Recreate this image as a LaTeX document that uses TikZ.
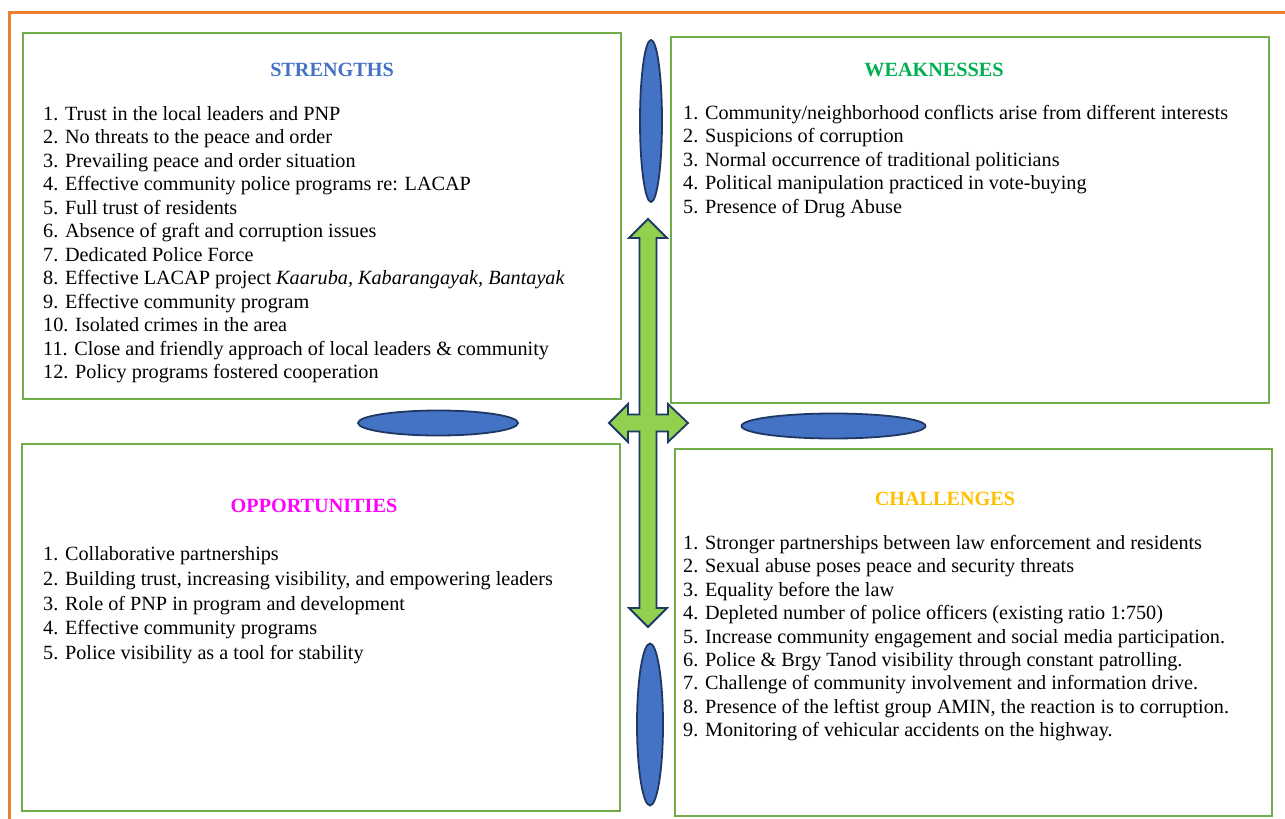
\documentclass[tikz,border=0pt]{standalone}
\usepackage{fontspec}
\setmainfont{Liberation Serif}
\definecolor{orangeline}{HTML}{ED7D31}
\definecolor{boxgreen}{HTML}{70AD47}
\definecolor{arrowgreen}{HTML}{92D050}
\definecolor{navy}{HTML}{1F3864}
\definecolor{ellblue}{HTML}{4472C4}
\definecolor{hstr}{HTML}{4472C4}
\definecolor{hweak}{HTML}{00B050}
\definecolor{hopp}{HTML}{FF00FF}
\definecolor{hchal}{HTML}{FFC000}
\tikzset{
  quad/.style={draw=boxgreen,line width=2.5pt},
  oval/.style={draw=navy,fill=ellblue,line width=1.8pt},
  item/.style={anchor=base west,inner sep=0pt,font=\fontsize{20.2}{24}\selectfont},
  head/.style={anchor=base,inner sep=0pt,font=\fontsize{20.2}{24}\selectfont\bfseries},
}
\begin{document}
\begin{tikzpicture}[x=1pt,y=-1pt]
\useasboundingbox (0,0) rectangle (1285,819);
\fill[white] (0,0) rectangle (1285,819);
% orange frame
\draw[orangeline,line width=3pt] (9,830) -- (9,12) -- (1290,12);
% boxes
\draw[quad] (23,33) rectangle (621,399);
\draw[quad] (671,37) rectangle (1269,403);
\draw[quad] (22,444) rectangle (620,811);
\draw[quad] (675,449) rectangle (1272,816);
% ellipses
\draw[oval] (651,121) ellipse [x radius=11, y radius=81];
\draw[oval] (650,724.5) ellipse [x radius=13, y radius=81];
\draw[oval] (438,423) ellipse [x radius=80, y radius=12.5];
\draw[oval] (833.5,426) ellipse [x radius=92, y radius=12.5];
% four-way arrow
\draw[fill=arrowgreen,draw=navy,line width=1.8pt,line join=miter]
 (648,219) -- (667,238) -- (656.5,238) -- (656.5,414.5) -- (668,414.5) -- (668,404)
 -- (688,423) -- (668,442) -- (668,431.5) -- (656.5,431.5) -- (656.5,608) -- (667,608)
 -- (648,627) -- (629,608) -- (639.5,608) -- (639.5,431.5) -- (628,431.5) -- (628,442)
 -- (609,423) -- (628,404) -- (628,414.5) -- (639.5,414.5) -- (639.5,238) -- (629,238) -- cycle;
% headings
\node[head,text=hstr] (hs) at (332,76) {STRENGTHS};
\node[head,text=hweak] (hw) at (934,76) {WEAKNESSES};
\node[head,text=hopp] (ho) at (314,512) {OPPORTUNITIES};
\node[head,text=hchal] (hc) at (945,505) {CHALLENGES};
% strengths
\foreach \t [count=\i] in {
 {1. Trust in the local leaders and PNP},
 {2. No threats to the peace and order},
 {3. Prevailing peace and order situation},
 {4. Effective community police programs re: LACAP},
 {5. Full trust of residents},
 {6. Absence of graft and corruption issues},
 {7. Dedicated Police Force},
 {8. Effective LACAP project \textit{Kaaruba, Kabarangayak, Bantayak}},
 {9. Effective community program},
 {10. Isolated crimes in the area},
 {11. Close and friendly approach of local leaders \& community},
 {12. Policy programs fostered cooperation}}
 \node[item] (s\i) at (43,{120.5+23.45*(\i-1)}) {\t};
% weaknesses
\foreach \t [count=\i] in {
 {1. Community/neighborhood conflicts arise from different interests},
 {2. Suspicions of corruption},
 {3. Normal occurrence of traditional politicians},
 {4. Political manipulation practiced in vote-buying},
 {5. Presence of Drug Abuse}}
 \node[item] (w\i) at (683,{119.5+23.4*(\i-1)}) {\t};
% opportunities
\foreach \t [count=\i] in {
 {1. Collaborative partnerships},
 {2. Building trust, increasing visibility, and empowering leaders},
 {3. Role of PNP in program and development},
 {4. Effective community programs},
 {5. Police visibility as a tool for stability}}
 \node[item] (o\i) at (43,{560.5+24.75*(\i-1)}) {\t};
% challenges
\foreach \t [count=\i] in {
 {1. Stronger partnerships between law enforcement and residents},
 {2. Sexual abuse poses peace and security threats},
 {3. Equality before the law},
 {4. Depleted number of police officers (existing ratio 1:750)},
 {5. Increase community engagement and social media participation.},
 {6. Police \& Brgy Tanod visibility through constant patrolling.},
 {7. Challenge of community involvement and information drive.},
 {8. Presence of the leftist group AMIN, the reaction is to corruption.},
 {9. Monitoring of vehicular accidents on the highway.}}
 \node[item] (c\i) at (683,{549.5+23.4*(\i-1)}) {\t};
\end{tikzpicture}
\end{document}
